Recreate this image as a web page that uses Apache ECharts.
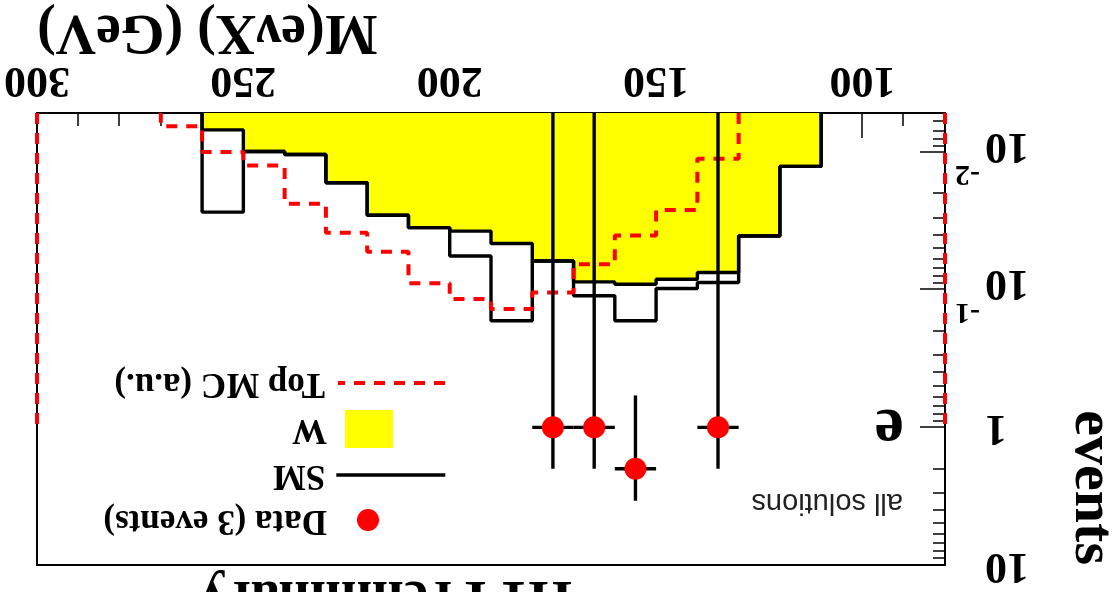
<!DOCTYPE html>
<html>
<head>
<meta charset="utf-8">
<script src="https://cdn.jsdelivr.net/npm/echarts@6/dist/echarts.min.js"></script>
<style>
  html, body { margin: 0; padding: 0; background: #fff; }
  #wrap { width: 1112px; height: 592px; transform: rotate(180deg); transform-origin: 50% 50%; }
</style>
</head>
<body>
<div id="wrap"></div>
<script>
// Axis ranges (GeV on x, events on a log y scale)
const BIN_WIDTH = 10;
const X_MIN = 80, X_MAX = 300;
const Y_MIN = 0.0052, Y_MAX = 10;

// W histogram (lower bin edge -> content)
const wBinEdges = [110, 120, 130, 140, 150, 160, 170, 180, 190, 200, 210, 220, 230, 240, 250];
const wValues   = [0.0127, 0.0407, 0.0750, 0.0840, 0.0912, 0.0877, 0.0618, 0.0461, 0.0375, 0.0354, 0.0288, 0.0167, 0.0104, 0.0099, 0.0069];

// SM total, same binning as W
const smValues  = [0.0127, 0.0407, 0.0887, 0.0980, 0.1680, 0.1106, 0.0618, 0.1680, 0.0569, 0.0354, 0.0288, 0.0167, 0.0104, 0.0099, 0.0273];

// Top MC (arbitrary units)
const topBinEdges = [130, 140, 150, 160, 170, 180, 190, 200, 210, 220, 230, 240, 250, 260];
const topValues   = [0.0112, 0.0264, 0.0403, 0.0653, 0.1047, 0.1380, 0.1170, 0.0897, 0.0529, 0.0386, 0.0237, 0.0125, 0.0100, 0.0065];
const topEdgeLines = [[80, 1], [300, 1]];

// Data points (all solutions) with symmetric errors
const dataX   = [135, 155, 165, 175];
const dataY   = [1, 2, 1, 1];
const dataErr = [1, 1.414, 1, 1];

// Tick positions
const xMajorTicks = [100, 150, 200, 250, 300];
const xMinorTicks = [90, 110, 120, 130, 140, 160, 170, 180, 190, 210, 220, 230, 240, 260, 270, 280, 290];
const yMajorTicks = [0.01, 0.1, 1, 10];
const yMinorTicks = [0.006, 0.007, 0.008, 0.009,
                     0.02, 0.03, 0.04, 0.05, 0.06, 0.07, 0.08, 0.09,
                     0.2, 0.3, 0.4, 0.5, 0.6, 0.7, 0.8, 0.9,
                     2, 3, 4, 5, 6, 7, 8, 9];

const SERIF = "'Liberation Serif', 'Times New Roman', serif";
const HIST_WIDTH = 3.4;
const TOP_DASH = [11, 9];

// Step outline of a histogram: rise at first edge, fall after last bin
function stepPoints(edges, values) {
  const pts = [[edges[0], Y_MIN]];
  edges.forEach((e, i) => pts.push([e, values[i]]));
  pts.push([edges[edges.length - 1] + BIN_WIDTH, Y_MIN]);
  return pts;
}

const chart = echarts.init(document.getElementById('wrap'), null, { renderer: 'canvas' });

const legendText = (pad) => ({
  fontFamily: SERIF, fontWeight: 'bold', fontSize: 35, color: '#000',
  lineHeight: 38, padding: [0, 0, 0, pad]
});

const option = {
  animation: false,
  backgroundColor: '#fff',
  grid: {
    left: 167, top: 27, width: 908, height: 452,
    show: true, borderColor: '#000', borderWidth: 2, backgroundColor: 'transparent'
  },
  xAxis: [
    {
      type: 'value', min: X_MIN, max: X_MAX, position: 'bottom',
      axisLine: { show: true, lineStyle: { color: '#000', width: 2 } },
      axisTick: { show: true, inside: true, length: 25, customValues: xMajorTicks, lineStyle: { color: '#000', width: 1.5 } },
      axisLabel: {
        customValues: xMajorTicks, margin: 12, color: '#000',
        fontFamily: SERIF, fontWeight: 'bold', fontSize: 44
      },
      splitLine: { show: false }
    },
    {
      type: 'value', min: X_MIN, max: X_MAX, position: 'bottom',
      axisLine: { show: false },
      axisTick: { show: true, inside: true, length: 13, customValues: xMinorTicks, lineStyle: { color: '#000', width: 1.5 } },
      axisLabel: { show: false },
      splitLine: { show: false }
    }
  ],
  yAxis: [
    {
      type: 'log', logBase: 10, min: Y_MIN, max: Y_MAX, position: 'left',
      axisLine: { show: true, lineStyle: { color: '#000', width: 2 } },
      axisTick: { show: true, inside: true, length: 25, customValues: yMajorTicks, lineStyle: { color: '#000', width: 1.5 } },
      axisLabel: {
        customValues: yMajorTicks, margin: 10, color: '#000', align: 'right',
        formatter: function (v) {
          const e = Math.round(Math.log10(v));
          if (e >= 0) return '{bp|' + Math.round(Math.pow(10, e)) + '}';
          return '{s|' + e + '}\n{b|10}';
        },
        rich: {
          b:  { fontFamily: SERIF, fontWeight: 'bold', fontSize: 44, lineHeight: 44, padding: [0, 30, 16, 0], color: '#000' },
          bp: { fontFamily: SERIF, fontWeight: 'bold', fontSize: 44, lineHeight: 44, padding: [0, 30, 0, 0], color: '#000' },
          s:  { fontFamily: SERIF, fontWeight: 'bold', fontSize: 30, lineHeight: 30, color: '#000' }
        }
      },
      splitLine: { show: false }
    },
    {
      type: 'log', logBase: 10, min: Y_MIN, max: Y_MAX, position: 'left',
      axisLine: { show: false },
      axisTick: { show: true, inside: true, length: 12, customValues: yMinorTicks, lineStyle: { color: '#000', width: 1.5 } },
      axisLabel: { show: false },
      splitLine: { show: false }
    }
  ],
  legend: [
    { data: ['Data (3 events)'], left: 733, top: 53, orient: 'vertical', padding: 0, selectedMode: false,
      itemWidth: 22, itemHeight: 38, textStyle: legendText(25) },
    { data: [{ name: 'SM', itemStyle: { opacity: 0 }, lineStyle: { width: HIST_WIDTH } }],
      left: 665, top: 98, orient: 'vertical', padding: 0, selectedMode: false,
      itemWidth: 109, itemHeight: 38, textStyle: legendText(6) },
    { data: [{ name: 'W', icon: 'rect', itemStyle: { color: '#ffff00', borderWidth: 0 } }],
      left: 719, top: 144, orient: 'vertical', padding: 0, selectedMode: false,
      itemWidth: 48, itemHeight: 38, textStyle: legendText(13) },
    { data: [{ name: 'Top MC (a.u.)', itemStyle: { opacity: 0 }, lineStyle: { width: 4, type: TOP_DASH } }],
      left: 665, top: 190, orient: 'vertical', padding: 0, selectedMode: false,
      itemWidth: 107, itemHeight: 38, textStyle: legendText(8) }
  ],
  graphic: [
    { type: 'text', x: -8, y: 27, rotation: Math.PI / 2,
      style: { text: 'events', font: 'bold 58px ' + SERIF, fill: '#000', align: 'right', verticalAlign: 'top' } },
    { type: 'text', x: 1075, y: 562,
      style: { text: 'M(e\u03bdX) (GeV)', font: 'bold 56px ' + SERIF, fill: '#000', align: 'right', verticalAlign: 'middle' } },
    { type: 'text', x: 208, y: 165,
      style: { text: 'e', font: 'bold 66px ' + SERIF, fill: '#000', align: 'left', verticalAlign: 'middle' } },
    { type: 'text', x: 209, y: 90,
      style: { text: 'all solutions', font: "29px 'Liberation Sans', Arial, sans-serif", fill: '#222', align: 'left', verticalAlign: 'middle' } },
    { type: 'text', x: 727, y: -4,
      style: { text: 'H1 Preliminary', font: 'bold 56px ' + SERIF, fill: '#000', align: 'center', verticalAlign: 'middle' } }
  ],
  series: [
    {
      name: 'W', type: 'line', step: 'end', xAxisIndex: 0, yAxisIndex: 0,
      data: stepPoints(wBinEdges, wValues),
      symbol: 'none', color: '#ffff00',
      lineStyle: { color: '#000', width: HIST_WIDTH },
      areaStyle: { color: '#ffff00', opacity: 1, origin: Y_MIN },
      z: 2
    },
    {
      name: 'SM', type: 'line', step: 'end', xAxisIndex: 0, yAxisIndex: 0,
      data: stepPoints(wBinEdges, smValues),
      symbol: 'none', color: '#000',
      lineStyle: { color: '#000', width: HIST_WIDTH },
      z: 3
    },
    {
      name: 'Top MC (a.u.)', type: 'line', step: 'end', xAxisIndex: 0, yAxisIndex: 0,
      data: stepPoints(topBinEdges, topValues),
      symbol: 'none', color: '#ff0000',
      lineStyle: { color: '#ff0000', width: 4, type: TOP_DASH },
      markLine: {
        silent: true, symbol: 'none', label: { show: false },
        lineStyle: { color: '#ff0000', width: 4, type: TOP_DASH },
        data: topEdgeLines.map(([x, top]) => [{ coord: [x, Y_MIN] }, { coord: [x, top] }])
      },
      z: 4
    },
    {
      name: 'errors', type: 'custom', xAxisIndex: 0, yAxisIndex: 0,
      data: dataX.map((x, i) => [x, dataY[i], dataErr[i]]),
      renderItem: function (params, api) {
        const x = api.value(0), y = api.value(1), err = api.value(2);
        const lo = Math.max(y - err, Y_MIN);
        const hi = y + err;
        const pL = api.coord([x - BIN_WIDTH / 2, y]);
        const pR = api.coord([x + BIN_WIDTH / 2, y]);
        const pLo = api.coord([x, lo]);
        const pHi = api.coord([x, hi]);
        const st = { stroke: '#000', lineWidth: HIST_WIDTH };
        return {
          type: 'group',
          children: [
            { type: 'line', shape: { x1: pL[0], y1: pL[1], x2: pR[0], y2: pR[1] }, style: st },
            { type: 'line', shape: { x1: pLo[0], y1: pLo[1], x2: pHi[0], y2: pHi[1] }, style: st }
          ]
        };
      },
      z: 5
    },
    {
      name: 'Data (3 events)', type: 'scatter', xAxisIndex: 0, yAxisIndex: 0,
      data: dataX.map((x, i) => [x, dataY[i]]),
      symbol: 'circle', symbolSize: 22,
      itemStyle: { color: '#ff0000', opacity: 1 },
      z: 6
    }
  ]
};

chart.setOption(option);
</script>
</body>
</html>
